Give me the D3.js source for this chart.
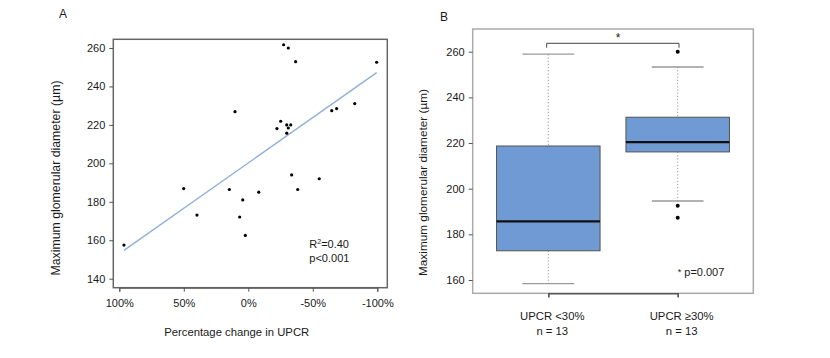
<!DOCTYPE html>
<html><head><meta charset="utf-8">
<script src="https://cdn.jsdelivr.net/npm/d3@7/dist/d3.min.js"></script>
<style>body{margin:0;background:#fff}text{font-family:"Liberation Sans",Arial,sans-serif;fill:#1a1a1a}</style>
</head><body><svg id="c" width="830" height="358"></svg>
<script>
// Panel A data
const pctChange = [-27.4,-31,-36.7,-99.5,10.3,-25.1,-22.2,-29.8,-32.9,-31,-29.8,-64.7,-68.5,-82.5,-33.6,-55,-38.3,50.1,14.7,-8.1,4.3,39.8,6.7,2.3,96.4];
const diameter  = [261.7,260,252.9,252.6,226.9,221.9,218.1,220,220,218.4,215.7,227.4,228.5,231.1,194,192,186.4,186.9,186.4,185,181,173.1,172.1,162.5,157.5];
const fitLine = [[96.4,154.7],[-99.5,247.2]];
const xTicksA = [100,50,0,-50,-100];
const yTicksA = [140,160,180,200,220,240,260];
// Panel B data
const groups = ["UPCR <30%","UPCR \u226530%"];
const groupN = ["n = 13","n = 13"];
const whiskLow = [158.4,194.6];
const q1 = [172.8,216.1];
const median = [185.7,220.4];
const q3 = [218.7,231.3];
const whiskHigh = [258.9,253.3];
const outliers = [[],[260,192.5,187.3]];
const yTicksB = [160,180,200,220,240,260];

const svg = d3.select("#c");
const fs = 11;

// ---------- Panel A ----------
const xA = d3.scaleLinear().domain([100,-100]).range([119.3,377.3]);
const yA = d3.scaleLinear().domain([140,260]).range([278.7,48]);
const gA = svg.append("g");
gA.append("rect").attr("x",113.3).attr("y",39.3).attr("width",274).attr("height",248.4)
  .attr("fill","none").attr("stroke","#666").attr("stroke-width",1.5);
const axA = gA.append("g").attr("transform","translate(113.3,0)")
  .call(d3.axisLeft(yA).tickValues(yTicksA).tickSize(4).tickPadding(4));
axA.select(".domain").remove();
axA.selectAll("line").attr("stroke","#555");
axA.selectAll("text").attr("font-size",fs).attr("font-family","Liberation Sans, Arial").attr("fill","#1a1a1a");
const axXA = gA.append("g").attr("transform","translate(0,287.7)")
  .call(d3.axisBottom(xA).tickValues(xTicksA).tickSize(4).tickPadding(8).tickFormat(d=>d+"%"));
axXA.select(".domain").attr("stroke","#555");
axXA.selectAll("line").attr("stroke","#555");
axXA.selectAll("text").attr("font-size",fs).attr("font-family","Liberation Sans, Arial").attr("fill","#1a1a1a");
gA.append("line").attr("x1",xA(fitLine[0][0])).attr("y1",yA(fitLine[0][1]))
  .attr("x2",xA(fitLine[1][0])).attr("y2",yA(fitLine[1][1]))
  .attr("stroke","#8fb0d8").attr("stroke-width",1.4);
gA.selectAll("circle.pt").data(pctChange).join("circle").attr("class","pt")
  .attr("cx",d=>xA(d)).attr("cy",(d,i)=>yA(diameter[i])).attr("r",1.6).attr("fill","#000");
gA.append("text").attr("x",309.3).attr("y",248).attr("font-size",fs).html('R<tspan dy="-4" font-size="7">2</tspan><tspan dy="4">=0.40</tspan>');
gA.append("text").attr("x",309.3).attr("y",261.5).attr("font-size",fs).text("p<0.001");
gA.append("text").attr("x",236.7).attr("y",335.5).attr("text-anchor","middle").attr("font-size",fs+0.3).text("Percentage change in UPCR");
gA.append("text").attr("transform","translate(60,178) rotate(-90)").attr("text-anchor","middle").attr("font-size",12.3).text("Maximum glomerular diameter (\u00b5m)");
gA.append("text").attr("x",59).attr("y",18).attr("font-size",12).text("A");

// ---------- Panel B ----------
const xB = d3.scaleLinear().domain([1,2]).range([548.3,677.7]);
const yB = d3.scaleLinear().domain([160,260]).range([280,51.7]);
const unit = xB(2)-xB(1);
const gB = svg.append("g");
gB.append("rect").attr("x",472.7).attr("y",29).attr("width",280.6).attr("height",264.3)
  .attr("fill","none").attr("stroke","#aaa").attr("stroke-width",1.5);
const axB = gB.append("g").attr("transform","translate(472.7,0)")
  .call(d3.axisLeft(yB).tickValues(yTicksB).tickSize(4).tickPadding(4));
axB.select(".domain").remove();
axB.selectAll("line").attr("stroke","#555");
axB.selectAll("text").attr("font-size",fs).attr("font-family","Liberation Sans, Arial").attr("fill","#1a1a1a");
const axXB = gB.append("g").attr("transform","translate(0,293.3)")
  .call(d3.axisBottom(xB).tickValues([1,2]).tickSize(4).tickFormat(""));
axXB.select(".domain").attr("stroke","#555").attr("stroke-width",1.5);
axXB.selectAll("line").attr("stroke","#555");

groups.forEach((g,i)=>{
  const cx = xB(i+1);
  gB.append("line").attr("x1",cx).attr("x2",cx).attr("y1",yB(whiskHigh[i])).attr("y2",yB(q3[i]))
    .attr("stroke","#999").attr("stroke-dasharray","1.2,2");
  gB.append("line").attr("x1",cx).attr("x2",cx).attr("y1",yB(q1[i])).attr("y2",yB(whiskLow[i]))
    .attr("stroke","#999").attr("stroke-dasharray","1.2,2");
  [whiskHigh[i],whiskLow[i]].forEach(v=>{
    gB.append("line").attr("x1",cx-unit*0.2).attr("x2",cx+unit*0.2).attr("y1",yB(v)).attr("y2",yB(v))
      .attr("stroke","#999").attr("stroke-width",1.3);
  });
  gB.append("rect").attr("x",cx-unit*0.4).attr("width",unit*0.8)
    .attr("y",yB(q3[i])).attr("height",yB(q1[i])-yB(q3[i]))
    .attr("fill","#6f9ad3").attr("stroke","#555").attr("stroke-width",1);
  gB.append("line").attr("x1",cx-unit*0.4).attr("x2",cx+unit*0.4).attr("y1",yB(median[i])).attr("y2",yB(median[i]))
    .attr("stroke","#111").attr("stroke-width",2.2);
  outliers[i].forEach(v=>{
    gB.append("circle").attr("cx",cx).attr("cy",yB(v)).attr("r",2).attr("fill","#000");
  });
  gB.append("text").attr("x",cx+4).attr("y",319.5).attr("text-anchor","middle").attr("font-size",fs+0.3).text(g);
  gB.append("text").attr("x",cx+4).attr("y",334.5).attr("text-anchor","middle").attr("font-size",fs+0.3).text(groupN[i]);
});
gB.append("path").attr("d",`M${xB(1)-1.6},47.7V43.3H${xB(2)+1.3}V47.7`).attr("fill","none").attr("stroke","#444").attr("stroke-width",1);
gB.append("text").attr("x",(xB(1)+xB(2))/2+5).attr("y",42).attr("text-anchor","middle").attr("font-size",12).text("*");
gB.append("text").attr("x",xB(2)).attr("y",275.5).attr("font-size",fs).html('<tspan font-size="9" dy="-1">*</tspan><tspan dy="1"> p=0.007</tspan>');
gB.append("text").attr("transform","translate(427,182.5) rotate(-90)").attr("text-anchor","middle").attr("font-size",11.8).text("Maximum glomerular diameter (\u00b5m)");
gB.append("text").attr("x",440).attr("y",20.5).attr("font-size",12).text("B");
</script></body></html>
